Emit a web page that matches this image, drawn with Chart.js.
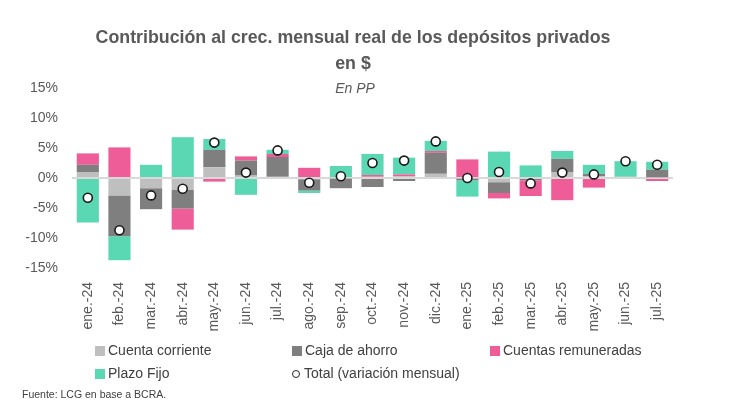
<!DOCTYPE html>
<html>
<head>
<meta charset="utf-8">
<script src="https://cdn.jsdelivr.net/npm/chart.js@4.4.1/dist/chart.umd.min.js"></script>
<style>
  body { margin: 0; background: #fff; }
  #wrap { position: relative; width: 730px; height: 413px; font-family: "Liberation Sans", Arial, sans-serif; }
  #chart { position: absolute; left: 0; top: 0; }
  .title { position: absolute; left: 0; width: 706px; text-align: center; color: #595959; font-weight: bold; font-size: 17.8px; }
  .sub { position: absolute; left: 0; width: 710px; text-align: center; color: #595959; font-style: italic; font-size: 14px; }
  #legend { position: absolute; left: 95px; top: 341px; }
  .item { position: absolute; white-space: nowrap; font-size: 14px; color: #404040; line-height: 18px; }
  .box { display: inline-block; width: 10px; height: 10px; margin-right: 3px; vertical-align: -1px; }
  .dot { display: inline-block; width: 6px; height: 6px; border: 1.5px solid #222; border-radius: 50%; margin-right: 4px; vertical-align: 0px; }
  #source { position: absolute; left: 22px; top: 388px; font-size: 10.5px; color: #404040; }
</style>
</head>
<body>
<div id="wrap">
  <canvas id="chart" width="730" height="413"></canvas>
  <div class="title" style="top:27px">Contribución al crec. mensual real de los depósitos privados</div>
  <div class="title" style="top:53px">en $</div>
  <div class="sub" style="top:80px">En PP</div>
  <div id="legend"></div>
  <div id="source">Fuente: LCG en base a BCRA.</div>
</div>
<script>
const months = ['ene.-24','feb.-24','mar.-24','abr.-24','may.-24','jun.-24','jul.-24','ago.-24','sep.-24','oct.-24',
                'nov.-24','dic.-24','ene.-25','feb.-25','mar.-25','abr.-25','may.-25','jun.-25','jul.-25'];

const cuentaCorriente = [1.0, -2.9, -1.7, -2.0, 1.8, 0.4, 0.2, -0.2, -0.1, 0.2, 0.3, 0.7, -0.1, -0.7, 0.0, 1.0, 0.3, 0.2, 0.1];
const cajaAhorro      = [1.2, -6.8, -3.5, -3.1, 2.9, 2.5, 3.3, -1.9, -1.6, -1.5, -0.5, 3.5, -0.3, -1.8, -0.4, 2.2, 0.4, 0.0, 1.3];
const remuneradas     = [1.9, 5.1, 0.0, -3.5, -0.6, 0.7, 0.5, 1.7, 0.0, 0.3, 0.3, 0.3, 3.1, -0.9, -2.6, -3.7, -1.6, 0.0, -0.5];
const plazoFijo       = [-7.4, -4.0, 2.2, 6.8, 1.8, -2.8, 0.7, -0.4, 2.0, 3.5, 2.8, 1.7, -2.7, 4.4, 2.1, 1.3, 1.5, 2.6, 1.3];
const totalMensual    = [-3.3, -8.7, -2.9, -1.8, 5.9, 0.9, 4.6, -0.8, 0.3, 2.5, 2.9, 6.1, 0.0, 1.0, -0.9, 0.9, 0.6, 2.8, 2.2];

const yTicks = [-15, -10, -5, 0, 5, 10, 15];

const colors = {
    cc: '#bfbfbf',
    ca: '#7f7f7f',
    cr: '#ee5d97',
    pf: '#5ad8b3'
};

function barSet(label, values, color) {
    return {
        type: 'bar',
        label: label,
        data: values,
        backgroundColor: color,
        stack: 'dep',
        order: 2,
        barPercentage: 0.7,
        categoryPercentage: 1.0
    };
}

const datasets = [
    barSet('Cuenta corriente', cuentaCorriente, colors.cc),
    barSet('Caja de ahorro', cajaAhorro, colors.ca),
    barSet('Cuentas remuneradas', remuneradas, colors.cr),
    barSet('Plazo Fijo', plazoFijo, colors.pf),
    {
        type: 'line',
        label: 'Total (variación mensual)',
        data: totalMensual,
        stack: 'tot',
        order: 1,
        showLine: false,
        pointRadius: 4.5,
        pointBackgroundColor: '#ffffff',
        pointBorderColor: '#1a1a1a',
        pointBorderWidth: 1.6
    }
];

const tickFont = { family: '"Liberation Sans", Arial, sans-serif', size: 14 };

new Chart(document.getElementById('chart'), {
    data: { labels: months, datasets: datasets },
    options: {
        responsive: false,
        animation: false,
        layout: { padding: { left: 0, right: 57, top: 88, bottom: 0 } },
        plugins: { legend: { display: false }, tooltip: { enabled: false } },
        scales: {
            x: {
                stacked: true,
                grid: { display: false },
                border: { display: false },
                ticks: { color: '#595959', font: tickFont, minRotation: 90, maxRotation: 90, padding: 6, autoSkip: false },
                afterFit: (s) => { s.height = 145; }
            },
            y: {
                stacked: true,
                min: -15,
                max: 15,
                afterBuildTicks: (s) => { s.ticks = yTicks.map(v => ({ value: v })); },
                grid: {
                    drawTicks: false,
                    lineWidth: 2,
                    color: (ctx) => ctx.tick && ctx.tick.value === 0 ? '#d9d9d9' : 'rgba(0,0,0,0)'
                },
                border: { display: false },
                ticks: { color: '#595959', font: tickFont, padding: 14, callback: (v) => v + '%' },
                afterFit: (s) => { s.width = 72; }
            }
        }
    }
});

// legend laid out in a 3-column grid like the original
const legendPos = [[0, 0], [197, 0], [395, 0], [0, 23], [197, 23]];
const legend = document.getElementById('legend');
datasets.forEach((d, i) => {
    const el = document.createElement('div');
    el.className = 'item';
    el.style.left = legendPos[i][0] + 'px';
    el.style.top = legendPos[i][1] + 'px';
    const mark = d.type === 'bar'
        ? `<span class="box" style="background:${d.backgroundColor}"></span>`
        : `<span class="dot"></span>`;
    el.innerHTML = mark + d.label;
    legend.appendChild(el);
});
</script>
</body>
</html>
